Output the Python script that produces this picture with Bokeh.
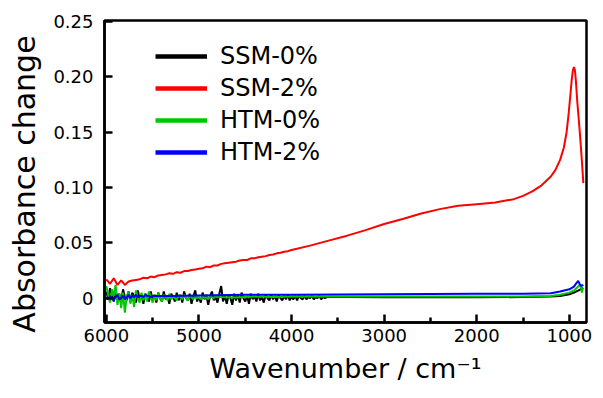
from bokeh.plotting import figure
from bokeh.models import Range1d, FixedTicker, CustomJSTickFormatter, Legend, LegendItem
from bokeh.embed import file_html
from bokeh.resources import INLINE

# ---------------- data ----------------
# SSM-2% (red): noisy part sampled every 40 cm-1 from 6000
red_noisy_y = [0.017, 0.013, 0.018, 0.012, 0.016, 0.012, 0.015, 0.016, 0.0165, 0.017,
               0.0185, 0.018, 0.0195, 0.019, 0.0205, 0.021, 0.0215, 0.0225, 0.022, 0.0235,
               0.023, 0.0245, 0.0245, 0.0255, 0.026, 0.0265, 0.027, 0.0285, 0.028, 0.0295,
               0.0295, 0.031, 0.0315, 0.032, 0.0325, 0.033, 0.034, 0.0345, 0.0345, 0.036,
               0.036, 0.037, 0.0375, 0.038, 0.039, 0.0395, 0.0405, 0.041, 0.042, 0.0425, 0.0435]
red_smooth_x = [3800, 3600, 3400, 3200, 3000, 2800, 2600, 2400, 2200, 2000, 1800, 1700,
                1600, 1500, 1400, 1300, 1200, 1150, 1100, 1060, 1030, 1010, 990, 975, 962,
                950, 940, 930, 915, 895, 880, 865, 849]
red_smooth_y = [0.0475, 0.052, 0.0565, 0.0615, 0.067, 0.0715, 0.0765, 0.0805, 0.0835, 0.085,
                0.0865, 0.088, 0.0895, 0.0925, 0.0965, 0.102, 0.110, 0.116, 0.125, 0.136,
                0.150, 0.165, 0.183, 0.197, 0.206, 0.209, 0.206, 0.197, 0.178, 0.158, 0.142,
                0.124, 0.104]

# SSM-0% (black): noisy part sampled every 20 cm-1 from 6000
black_noisy_y = [0.006, -0.001, 0.009, 0.002, -0.003, 0.007, 0.000, 0.004, -0.004, 0.008,
                 0.001, -0.002, 0.006, -0.003, 0.005, 0.002, -0.004, 0.007, -0.001, 0.003,
                 -0.005, 0.004, 0.001, -0.003, 0.006, -0.002, 0.003, -0.004, 0.005, 0.000,
                 -0.003, 0.006, -0.001, 0.002, -0.005, 0.004, 0.001, -0.003, 0.005, -0.002,
                 0.003, -0.004, 0.006, 0.000, -0.002, 0.004, -0.005, 0.002, 0.007, -0.003,
                 0.001, -0.004, 0.005, -0.001, 0.003, -0.006, 0.002, 0.006, -0.002, 0.001,
                 -0.004, 0.004, 0.011, -0.003, 0.002, -0.005, 0.003, 0.000, -0.006, 0.004,
                 -0.002, 0.003, -0.004, 0.005, 0.000, -0.003, 0.002, -0.005, 0.004, -0.001,
                 0.002, -0.003, 0.004, -0.002, 0.001, -0.004, 0.003, 0.000, -0.002, 0.003,
                 -0.001, 0.002, -0.003, 0.003, 0.000, -0.002, 0.002, -0.001, 0.003, -0.002,
                 0.001, -0.001, 0.002, -0.002, 0.002, 0.000, -0.001, 0.002, -0.001, 0.001,
                 0.000, 0.002, -0.001, 0.001, 0.000, 0.002, -0.001, 0.001, 0.000, 0.001,
                 0.001]
black_smooth_x = [3400, 3000, 2500, 2000, 1500, 1200, 1100, 1000, 950, 900, 870, 849]
black_smooth_y = [0.001, 0.0008, 0.001, 0.0008, 0.001, 0.0015, 0.002, 0.0035, 0.005, 0.007, 0.0085, 0.009]

# HTM-0% (green): noisy part sampled every 20 cm-1 from 6000
green_noisy_y = [0.011, 0.003, -0.004, 0.008, 0.002, 0.012, -0.006, 0.004, -0.009, 0.005,
                 -0.013, 0.002, 0.006, -0.005, 0.003, -0.008, 0.007, 0.000, -0.004, 0.005,
                 -0.002, 0.004, -0.003, 0.006, 0.001, -0.004, 0.003, -0.002, 0.005, 0.000,
                 -0.003, 0.003, 0.001, -0.002, 0.004, -0.001, 0.002, 0.000, -0.002, 0.003,
                 0.001, -0.001, 0.003, 0.000, -0.002, 0.002, 0.001, -0.001, 0.002, 0.000,
                 0.001, -0.001, 0.002, 0.000, 0.001, -0.001, 0.002, 0.001, 0.000, 0.002,
                 0.001]
green_smooth_x = [4600, 4400, 4200, 4000, 3000, 2000, 1500, 1200, 1100, 1000, 950,
                  910, 890, 875, 865, 855, 849]
green_smooth_y = [0.0005, 0.0015, 0.001, 0.0015, 0.0015, 0.0015, 0.0015, 0.002, 0.003,
                  0.005, 0.007, 0.010, 0.012, 0.010, 0.005, 0.009, 0.008]

# HTM-2% (blue): noisy part sampled every 20 cm-1 from 6000
blue_noisy_y = [0.001, -0.001, 0.002, 0.000, -0.002, 0.001, 0.003, -0.001, 0.000, 0.002,
                -0.001, 0.001, 0.003, 0.000, 0.002, 0.001, 0.003, 0.001, 0.002, 0.002,
                0.001, 0.003, 0.002, 0.002, 0.001, 0.002]
blue_smooth_x = [5300, 5000, 4500, 4000, 3000, 2000, 1500, 1200, 1100, 1000, 950, 920,
                 905, 890, 870, 849]
blue_smooth_y = [0.002, 0.0025, 0.003, 0.003, 0.0035, 0.004, 0.004, 0.0045, 0.006, 0.008,
                 0.0105, 0.014, 0.0155, 0.013, 0.011, 0.012]

labels = ["SSM-0%", "SSM-2%", "HTM-0%", "HTM-2%"]
colors = ["#000000", "#ff0000", "#00c800", "#0000ff"]

x_ticks = [6000, 5000, 4000, 3000, 2000, 1000]
x_minor = [5500, 4500, 3500, 2500, 1500]
y_ticks = [0, 0.05, 0.10, 0.15, 0.20, 0.25]


def grid(n, step):
    # wavenumber sampling of the noisy part, from 6000 cm-1 downward
    return [6000 - step * i for i in range(n)]


series = [
    (grid(len(black_noisy_y), 20) + black_smooth_x, black_noisy_y + black_smooth_y),
    (grid(len(red_noisy_y), 40) + red_smooth_x, red_noisy_y + red_smooth_y),
    (grid(len(green_noisy_y), 20) + green_smooth_x, green_noisy_y + green_smooth_y),
    (grid(len(blue_noisy_y), 20) + blue_smooth_x, blue_noisy_y + blue_smooth_y),
]

FONT = "DejaVu Sans"

p = figure(output_backend="svg", toolbar_location=None,
           frame_width=482, frame_height=302,
           min_border_left=104, min_border_right=10, min_border_top=20, min_border_bottom=60,
           x_range=Range1d(6020, 815), y_range=Range1d(-0.022, 0.251))

p.xgrid.visible = False
p.ygrid.visible = False
p.outline_line_color = "black"
p.outline_line_width = 2.5
p.outline_line_alpha = 1.0

for (xs, ys), c in zip(series, colors):
    p.line(xs, ys, line_color=c, line_width=2)

# legend with thicker sample lines (single-point lines draw nothing in the plot)
items = []
for (xs, ys), lab, c in zip(series, labels, colors):
    r = p.line(xs[:1], ys[:1], line_color=c, line_width=4.5)
    items.append(LegendItem(label=lab, renderers=[r]))
leg = Legend(items=items, location=(51, 156), border_line_color=None,
             background_fill_alpha=0, label_text_font=FONT, label_text_font_size="24px",
             label_text_color="black",
             glyph_width=52, glyph_height=20, label_height=20, spacing=4,
             label_standoff=13, padding=5, margin=0)
p.add_layout(leg, "center")

ax = p.xaxis[0]
ax.ticker = FixedTicker(ticks=x_ticks, minor_ticks=x_minor)
ax.formatter = CustomJSTickFormatter(code="return tick.toFixed(0);")
ax.axis_label = "Wavenumber / cm\u207b\u00b9"
ay = p.yaxis[0]
ay.ticker = FixedTicker(ticks=y_ticks, minor_ticks=[])
ay.formatter = CustomJSTickFormatter(code="return tick == 0 ? '0' : tick.toFixed(2);")
ay.axis_label = "Absorbance change\u00a0\u00a0\u2009"

for a in (ax, ay):
    a.axis_line_width = 2.5
    a.major_tick_line_width = 2.5
    a.minor_tick_line_width = 2.5
    a.major_tick_in = 8
    a.major_tick_out = 0
    a.minor_tick_in = 5
    a.minor_tick_out = 0
    a.major_label_text_font = FONT
    a.major_label_text_font_size = "18px"
    a.major_label_text_color = "black"
    a.axis_label_text_font = FONT
    a.axis_label_text_font_style = "normal"
    a.axis_label_text_color = "black"
ax.axis_label_text_font_size = "27px"
ay.axis_label_text_font_size = "30px"
ax.major_label_standoff = 6
ax.axis_label_standoff = 8
ay.major_label_standoff = 11
ay.axis_label_standoff = 8

open("out.html", "w").write(file_html(p, INLINE))
